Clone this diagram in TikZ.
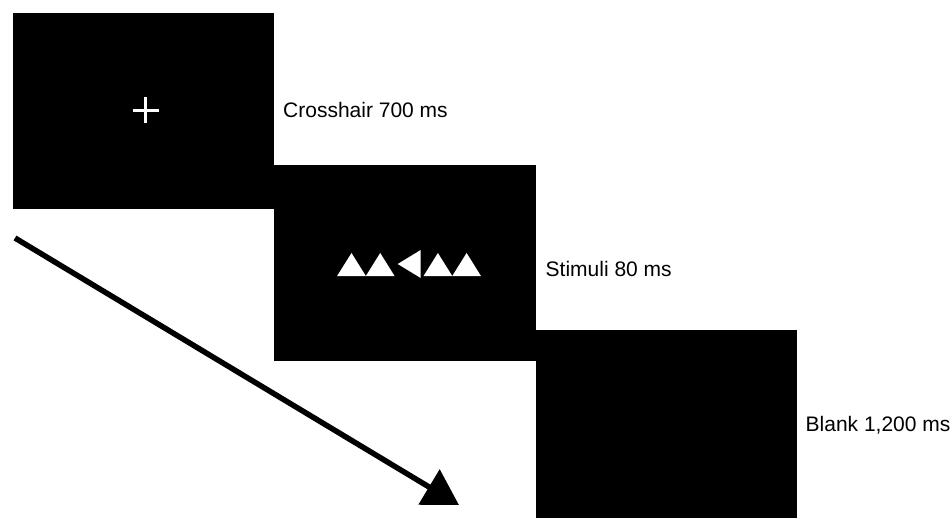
\documentclass[tikz,border=0pt]{standalone}
\usepackage{fontspec}
\setmainfont{Liberation Sans}
\usepackage{tikz}
\usetikzlibrary{arrows.meta,calc,positioning}
\tikzset{
	screen/.style={rectangle, fill=black, inner sep=0pt, anchor=north west},
	lbl/.style={anchor=base west, inner sep=0pt, font=\fontsize{21}{25}\selectfont},
	timeline/.style={line width=5.5pt, -{Triangle[length=35pt,width=40pt]}},
	cross/.style={white, line width=2.6pt}
}
\begin{document}
\begin{tikzpicture}[x=1pt,y=-1pt]
    \fill[white] (0,0) rectangle (952,518);
    \node[screen, minimum width=261pt, minimum height=196pt] (s1) at (13,13) {};
    \node[screen, minimum width=262pt, minimum height=196pt] (s2) at (274,165) {};
    \node[screen, minimum width=261pt, minimum height=188pt] (s3) at (536,330) {};

    \node[lbl] (c) at (283,118) {Crosshair 700 ms};
    \node[lbl] (s) at (545.5,276) {Stimuli 80 ms};
    \node[lbl] (b) at (805.5,431.5) {Blank 1,200 ms};

    % fixation cross
    \draw[cross] (132.5,110.5) -- (158.5,110.5) (145.5,97.5) -- (145.5,123.5);

    % flanker arrows
    \foreach \cx in {351.5,380.2,437.9,466.6}
        \fill[white] (\cx-14.35,276) -- (\cx+14.35,276) -- (\cx,253) -- cycle;
    \fill[white] (420.7,250) -- (420.7,278) -- (397.7,264) -- cycle;

    \coordinate (t0) at (15,238);
    \coordinate (t1) at (459,505);
    \draw[timeline] (t0) -- (t1);
\end{tikzpicture}
\end{document}
